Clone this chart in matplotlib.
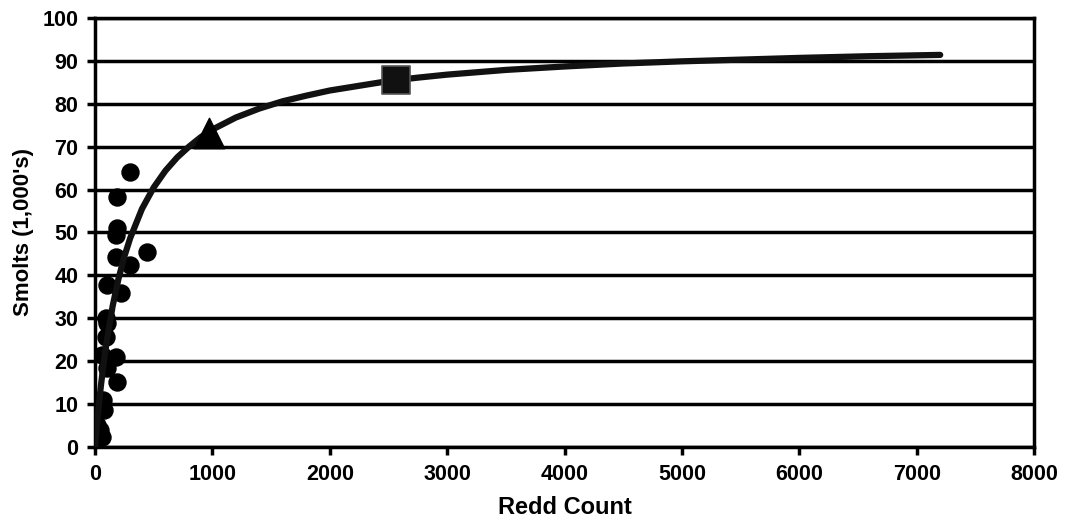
import numpy as np
import matplotlib.pyplot as plt

plt.rcParams['font.family'] = ['Liberation Sans', 'DejaVu Sans']
plt.rcParams['font.weight'] = 'bold'

# observed redd counts vs smolts (1,000's)
redds = [297, 191, 191, 177, 447, 177, 297, 105, 220, 91, 105, 91, 62, 177, 105, 191, 77, 20, 62, 0, 40, 70]
smolts = [64.2, 58.3, 51, 49.4, 45.5, 44.4, 42.4, 37.8, 35.8, 30, 28.8, 25.7, 21.4, 21, 18.3, 15.2, 8.6, 5.1, 2.4, 0.5, 4, 11]

# fitted curve
curve_x = [0, 25, 50, 75, 100, 150, 200, 250, 300, 400, 500, 600, 700, 800, 900, 1000, 1200,
           1400, 1600, 1800, 2000, 2250, 2500, 2750, 3000, 3500, 4000, 4500, 5000, 5500, 6000, 6600, 7200]
curve_y = [0, 7.7, 14.2, 19.8, 24.7, 32.8, 39.2, 44.4, 48.7, 55.5, 60.5, 64.4, 67.5, 70.0, 72.2, 74.0, 76.8,
           78.9, 80.6, 81.9, 83.1, 84.2, 85.3, 86.1, 86.8, 87.9, 88.7, 89.4, 89.9, 90.3, 90.7, 91.1, 91.4]

# highlighted points
tri_x, tri_y = [974], [73.2]
sq_x, sq_y = [2564], [85.5]

fig = plt.figure(figsize=(10.65, 5.25), dpi=100)
ax = fig.add_axes([0.0892, 0.1486, 0.8818, 0.8171])

ax.scatter(redds, smolts, s=150, color='black', zorder=3)
ax.plot(curve_x, curve_y, color='#111111', linewidth=4.5, solid_capstyle='round', zorder=4)
ax.scatter(tri_x, tri_y, marker='^', s=480, color='black', zorder=5)
ax.scatter(sq_x, sq_y, marker='s', s=400, color='#111111', edgecolor='#555555', linewidth=1.2, zorder=5)

ax.set_xlim(0, 8000)
ax.set_ylim(0, 100)
ax.set_xticks(range(0, 8001, 1000))
ax.set_yticks(range(0, 101, 10))
ax.yaxis.grid(True, color='black', linewidth=2.5)
ax.set_axisbelow(True)
for s in ax.spines.values():
    s.set_linewidth(2.5)
ax.tick_params(axis='both', direction='out', length=6, width=2.5, labelsize=15.5, pad=6)
ax.set_xlabel('Redd Count', fontsize=17, fontweight='bold', labelpad=8)
ax.set_ylabel("Smolts (1,000's)", fontsize=16, fontweight='bold', labelpad=6)

plt.savefig('out.png', dpi=100)
